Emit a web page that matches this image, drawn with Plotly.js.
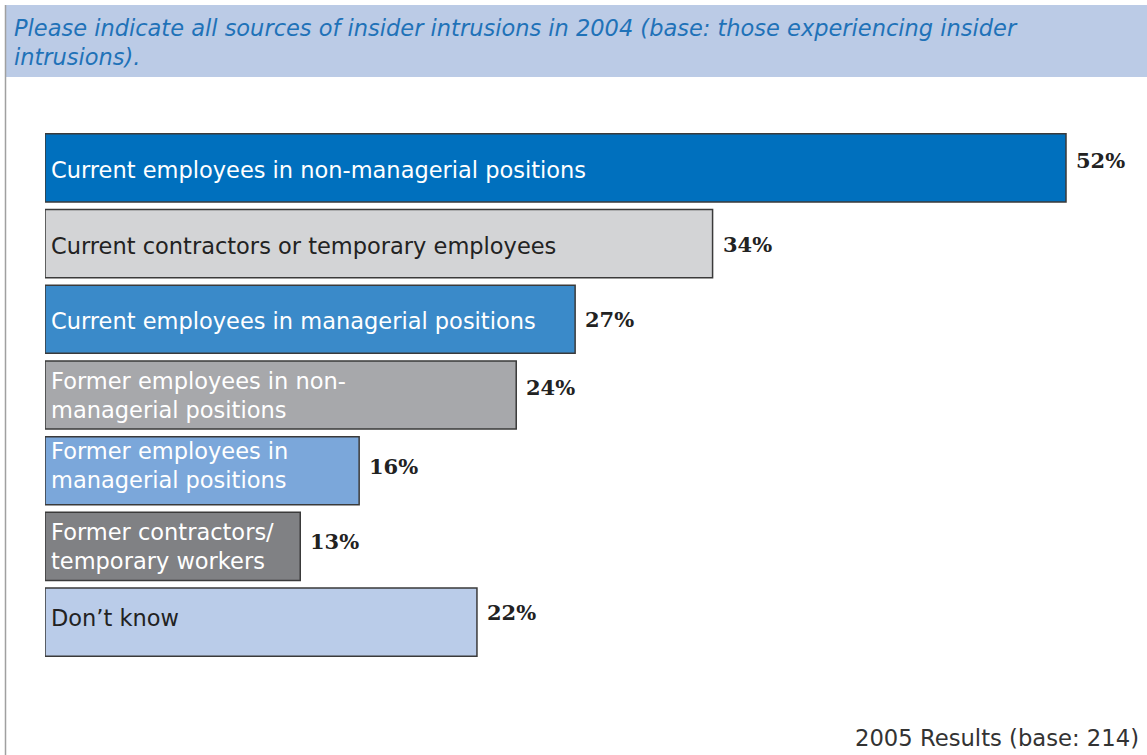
<!DOCTYPE html>
<html>
<head>
<meta charset="utf-8">
<script src="https://cdn.plot.ly/plotly-3.0.1.min.js"></script>
<style>
html,body{margin:0;padding:0;background:#fff;}
#chart{width:1147px;height:755px;}
</style>
</head>
<body>
<div id="chart"></div>
<script>
const categories = [
  "Current employees in non-managerial positions",
  "Current contractors or temporary employees",
  "Current employees in managerial positions",
  "Former employees in non-<br>managerial positions",
  "Former employees in<br>managerial positions",
  "Former contractors/<br>temporary workers",
  "Don\u2019t know"
];
const values = [52, 34, 27, 24, 16, 13, 22];
const valueLabels = ["52%", "34%", "27%", "24%", "16%", "13%", "22%"];
const titleText = "Please indicate all sources of insider intrusions in 2004 (base: those experiencing insider<br>intrusions).";
const footerText = "2005 Results (base: 214)";

const barColors = ["#0070BE", "#D3D4D6", "#3A8AC9", "#A7A8AB", "#7BA7DA", "#808184", "#BACCE9"];
const labelColors = ["#ffffff", "#222222", "#ffffff", "#ffffff", "#ffffff", "#ffffff", "#222222"];
const labelShift = [-2, -2, -2, 0, 5, 0, 4];
const valueShift = [7, -1, 0, 8, 4, 5, 10];

const L = 45, T = 130, B = 95, R = 2, W = 1147, H = 755;
const pw = W - L - R, ph = H - T - B;
const px = v => (v - L) / pw;
const py = v => (H - B - v) / ph;

const trace = {
  type: "bar",
  orientation: "h",
  y: categories,
  x: values,
  marker: { color: barColors, line: { color: "#3a3a3a", width: 1.5 } },
  hoverinfo: "skip"
};

const sans = "DejaVu Sans, Liberation Sans, sans-serif";
const annotations = [];
categories.forEach((c, i) => {
  annotations.push({
    x: 0, y: c, xref: "x", yref: "y",
    text: c, showarrow: false, xanchor: "left", yanchor: "middle", align: "left",
    xshift: 4, yshift: labelShift[i],
    font: { family: sans, size: 22.5, color: labelColors[i] }
  });
  annotations.push({
    x: values[i], y: c, xref: "x", yref: "y",
    text: valueLabels[i], showarrow: false, xanchor: "left", yanchor: "middle",
    xshift: 8, yshift: valueShift[i],
    font: { family: "DejaVu Serif, serif", size: 21, color: "#222222", weight: "bold" }
  });
});
annotations.push({
  x: px(1141), y: py(738), xref: "paper", yref: "paper",
  text: footerText, showarrow: false, xanchor: "right", yanchor: "middle",
  font: { family: sans, size: 22.7, color: "#333333" }
});
annotations.push({
  x: px(12), y: py(42), xref: "paper", yref: "paper",
  text: titleText, showarrow: false, xanchor: "left", yanchor: "middle", align: "left",
  font: { family: sans, size: 22.5, color: "#1F72B8", style: "italic" }
});

const layout = {
  width: W, height: H,
  margin: { l: L, r: R, t: T, b: B, pad: 0 },
  paper_bgcolor: "#ffffff", plot_bgcolor: "#ffffff",
  showlegend: false,
  bargap: 0.1,
  xaxis: { range: [0, pw / (1021 / 52)], visible: false, fixedrange: true },
  yaxis: { autorange: "reversed", visible: false, fixedrange: true },
  shapes: [
    { type: "rect", xref: "paper", yref: "paper", layer: "below",
      x0: px(5), x1: px(1148), y0: py(77), y1: py(5),
      fillcolor: "#BBCBE6", line: { width: 0 } },
    { type: "line", xref: "paper", yref: "paper", layer: "below",
      x0: px(5.5), x1: px(5.5), y0: py(755), y1: py(5),
      line: { color: "#a0a0a0", width: 1.5 } }
  ],
  annotations: annotations
};

Plotly.newPlot("chart", [trace], layout, { displayModeBar: false, staticPlot: true });
</script>
</body>
</html>
